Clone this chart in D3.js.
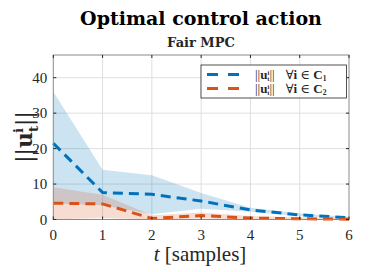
<!DOCTYPE html>
<html><head><meta charset="utf-8">
<script src="https://cdn.jsdelivr.net/npm/d3@7"></script>
<style>body{margin:0;background:#fff}svg{display:block}</style>
</head><body>
<svg id="c" width="386" height="272"></svg>
<script>
const steps = [0,1,2,3,4,5,6];
const blueMean  = [21.5, 7.6, 7.1, 5.2, 2.7, 1.3, 0.5];
const blueUpper = [36, 14, 12.5, 7.5, 3.3, 1.7, 0.7];
const blueLower = [4.5, 4.0, 1.5, 3.0, 2.2, 1.0, 0.3];
const orangeMean  = [4.6, 4.4, 0.3, 1.1, 0.4, 0.2, 0.1];
const orangeUpper = [9.1, 7.0, 1.2, 2.0, 1.0, 0.6, 0.4];
const orangeLower = [0, 0.4, 0, 0.3, 0, 0, 0];
const xTicks = [0,1,2,3,4,5,6];
const yTicks = [0,10,20,30,40];

const svg = d3.select('#c');
const L=53.3, R=349, T=55, B=219.5;
const x = d3.scaleLinear().domain([0,6]).range([L,R]);
const y = d3.scaleLinear().domain([0,46.4]).range([B,T]);
const serif = "'DejaVu Serif','Liberation Serif',serif";
const lserif = "'Liberation Serif','DejaVu Serif',serif";

// grid
svg.append('g').selectAll('line').data(xTicks.slice(1,-1)).join('line')
 .attr('x1',d=>x(d)).attr('x2',d=>x(d)).attr('y1',T).attr('y2',B)
 .attr('stroke','#dfdfdf').attr('stroke-width',1);
svg.append('g').selectAll('line').data(yTicks.slice(1)).join('line')
 .attr('y1',d=>y(d)).attr('y2',d=>y(d)).attr('x1',L).attr('x2',R)
 .attr('stroke','#dfdfdf').attr('stroke-width',1);

const band = (lo,hi)=>d3.area().x((d,i)=>x(steps[i])).y0((d,i)=>y(lo[i])).y1((d,i)=>y(hi[i]));
const line = (v)=>d3.line().x((d,i)=>x(steps[i])).y((d,i)=>y(v[i]));

svg.append('path').datum(steps).attr('d',band(blueLower,blueUpper)).attr('fill','#0072BD').attr('fill-opacity',0.2);
svg.append('path').datum(steps).attr('d',band(orangeLower,orangeUpper)).attr('fill','#D95319').attr('fill-opacity',0.2);
svg.append('path').datum(steps).attr('d',line(blueMean)).attr('fill','none').attr('stroke','#0072BD').attr('stroke-width',3).attr('stroke-dasharray','10,6');
svg.append('path').datum(steps).attr('d',line(orangeMean)).attr('fill','none').attr('stroke','#D95319').attr('stroke-width',3).attr('stroke-dasharray','10,6');

// box
svg.append('rect').attr('x',L).attr('y',T).attr('width',R-L).attr('height',B-T).attr('fill','none').attr('stroke','#8a8a8a').attr('stroke-width',1);
// ticks
const tk = svg.append('g').attr('stroke','#262626').attr('stroke-width',1);
xTicks.forEach(t=>{tk.append('line').attr('x1',x(t)).attr('x2',x(t)).attr('y1',B).attr('y2',B-3);tk.append('line').attr('x1',x(t)).attr('x2',x(t)).attr('y1',T).attr('y2',T+3);});
yTicks.forEach(t=>{tk.append('line').attr('y1',y(t)).attr('y2',y(t)).attr('x1',L).attr('x2',L+3);tk.append('line').attr('y1',y(t)).attr('y2',y(t)).attr('x1',R).attr('x2',R-3);});

svg.append('g').selectAll('text').data(xTicks).join('text')
 .attr('x',d=>x(d)).attr('y',B+20).attr('text-anchor','middle')
 .attr('font-family',lserif).attr('font-size',15).attr('fill','#262626').text(d=>d);
svg.append('g').selectAll('text').data(yTicks).join('text')
 .attr('x',L-6).attr('y',d=>y(d)+5).attr('text-anchor','end')
 .attr('font-family',lserif).attr('font-size',15).attr('fill','#262626').text(d=>d);

// titles
svg.append('text').attr('x',201).attr('y',25).attr('text-anchor','middle').attr('font-family',serif).attr('font-weight','bold').attr('font-size',19).attr('fill','#000').text('Optimal control action');
svg.append('text').attr('x',201).attr('y',47).attr('text-anchor','middle').attr('font-family',serif).attr('font-weight','bold').attr('font-size',13).attr('fill','#262626').text('Fair MPC');

// x label
const xl = svg.append('text').attr('x',200).attr('y',261).attr('text-anchor','middle').attr('font-family',lserif).attr('font-size',21).attr('fill','#262626');
xl.append('tspan').attr('font-style','italic').text('t');
xl.append('tspan').text(' [samples]');

// y label
const yl = svg.append('text').attr('transform','translate(32,137) rotate(-90)').attr('text-anchor','middle').attr('font-family',serif).attr('font-size',22).attr('fill','#262626');
yl.append('tspan').text('||');
yl.append('tspan').attr('font-weight','bold').text('u');
yl.append('tspan').attr('font-weight','bold').attr('font-size',13).attr('dy',-9).attr('dx',-1).text('i');
yl.append('tspan').attr('font-weight','bold').attr('font-size',13).attr('dy',15).attr('dx',-4).text('t');
yl.append('tspan').attr('dy',-6).text('||');

// legend
const lg = svg.append('g');
lg.append('rect').attr('x',201).attr('y',65).attr('width',145.5).attr('height',33).attr('fill','#fff').attr('stroke','#262626').attr('stroke-width',0.8);
const ent = [{c:'#0072BD',s:'1',yy:74.5},{c:'#D95319',s:'2',yy:88.5}];
ent.forEach(e=>{
  lg.append('line').attr('x1',207).attr('x2',241).attr('y1',e.yy).attr('y2',e.yy).attr('stroke',e.c).attr('stroke-width',3).attr('stroke-dasharray','11,10');
  const t = lg.append('text').attr('x',255).attr('y',e.yy+4).attr('font-family',lserif).attr('font-size',13).attr('fill','#262626');
  t.append('tspan').text('||');
  t.append('tspan').attr('font-weight','bold').text('u');
  t.append('tspan').attr('font-weight','bold').attr('font-size',6.5).attr('dy',-4).text('i');
  t.append('tspan').attr('font-weight','bold').attr('font-size',6.5).attr('dy',6).attr('dx',-2).text('t');
  t.append('tspan').attr('dy',-2).text('||');
  t.append('tspan').attr('dx',11).text('∀');
  t.append('tspan').attr('font-weight','bold').text('i');
  t.append('tspan').text(' ∈ ');
  t.append('tspan').attr('font-weight','bold').text('C');
  t.append('tspan').attr('font-weight','bold').attr('font-size',7.5).attr('dy',2).text(e.s);
});
</script>
</body></html>
